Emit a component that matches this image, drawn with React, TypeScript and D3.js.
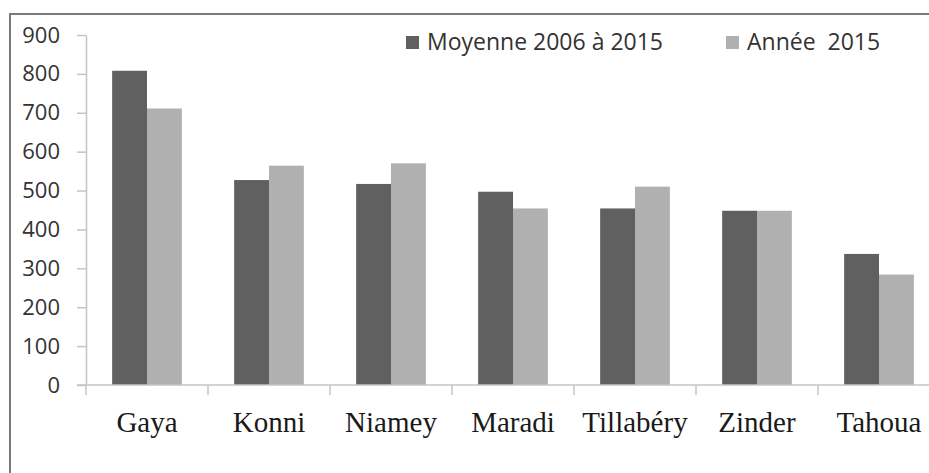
import * as d3 from "d3";
import { useEffect, useRef } from "react";

const categories = ["Gaya", "Konni", "Niamey", "Maradi", "Tillabéry", "Zinder", "Tahoua"];
const moyenne = [808, 527, 517, 497, 454, 448, 337];
const annee2015 = [711, 564, 570, 454, 510, 448, 284];
const seriesNames = ["Moyenne 2006 à 2015", "Année  2015"];
const yTicks = [0, 100, 200, 300, 400, 500, 600, 700, 800, 900];

const COLORS = {
  dark: "#606060",
  light: "#b0b0b0",
  axis: "#c4c4c4",
  tickText: "#333333",
  catText: "#1a1a1a",
  frame: "#7a7a7a",
};

const WIDTH = 929;
const HEIGHT = 473;

export default function App() {
  const svgRef = useRef<SVGSVGElement | null>(null);

  useEffect(() => {
    if (!svgRef.current) return;
    const svg = d3.select(svgRef.current);
    svg.selectAll("*").remove();

    const x0 = 86;
    const yBase = 385;
    const bandW = 122;

    const x = d3
      .scaleBand<string>()
      .domain(categories)
      .range([x0, x0 + bandW * categories.length]);
    // excel-like 150% gap between groups
    const x1 = d3
      .scaleBand<string>()
      .domain(seriesNames)
      .range([0, x.bandwidth()])
      .paddingInner(0)
      .paddingOuter(0.75);
    const y = d3.scaleLinear().domain([0, 900]).range([yBase, 35]);

    // outer frame (only top + left are in the picture)
    svg
      .append("path")
      .attr("d", `M10,${HEIGHT}V14H${WIDTH}`)
      .attr("fill", "none")
      .attr("stroke", COLORS.frame)
      .attr("stroke-width", 2);

    // bars
    const data = categories.map((c, i) => ({
      cat: c,
      values: [moyenne[i], annee2015[i]],
    }));
    const colors = [COLORS.dark, COLORS.light];

    const groups = svg
      .append("g")
      .selectAll("g")
      .data(data)
      .join("g")
      .attr("transform", (d) => `translate(${x(d.cat)},0)`);

    groups
      .selectAll("rect")
      .data((d) => d.values.map((v, i) => ({ v, i })))
      .join("rect")
      .attr("x", (d) => x1(seriesNames[d.i]) as number)
      .attr("width", x1.bandwidth())
      .attr("y", (d) => y(d.v))
      .attr("height", (d) => yBase - y(d.v))
      .attr("fill", (d) => colors[d.i]);

    // y axis
    const yAxis = svg
      .append("g")
      .attr("transform", `translate(${x0},0)`)
      .call(d3.axisLeft(y).tickValues(yTicks).tickSize(9).tickPadding(17).tickSizeOuter(0));
    yAxis.select(".domain").attr("stroke", COLORS.axis).attr("stroke-width", 1.5);
    yAxis.selectAll(".tick line").attr("stroke", COLORS.axis).attr("stroke-width", 1.5);
    yAxis
      .selectAll(".tick text")
      .attr("fill", COLORS.tickText)
      .style("font-family", "'Open Sans', sans-serif")
      .style("font-size", "22px");
    svg
      .append("line")
      .attr("x1", x0)
      .attr("x2", x0)
      .attr("y1", yBase)
      .attr("y2", yBase + 10)
      .attr("stroke", COLORS.axis)
      .attr("stroke-width", 1.5);

    // x axis
    svg
      .append("line")
      .attr("x1", x0 - 9)
      .attr("x2", WIDTH)
      .attr("y1", yBase)
      .attr("y2", yBase)
      .attr("stroke", COLORS.axis)
      .attr("stroke-width", 1.5);
    svg
      .append("g")
      .selectAll("line")
      .data(categories.slice(1))
      .join("line")
      .attr("x1", (d) => x(d) as number)
      .attr("x2", (d) => x(d) as number)
      .attr("y1", yBase)
      .attr("y2", yBase + 10)
      .attr("stroke", COLORS.axis)
      .attr("stroke-width", 1.5);

    svg
      .append("g")
      .selectAll("text")
      .data(categories)
      .join("text")
      .attr("x", (d) => (x(d) as number) + x.bandwidth() / 2)
      .attr("y", 432)
      .attr("text-anchor", "middle")
      .attr("fill", COLORS.catText)
      .style("font-family", "'Liberation Serif', 'Times New Roman', serif")
      .style("font-size", "29px")
      .text((d) => d);

    // legend
    const legendPos = [
      { sx: 406, tx: 427 },
      { sx: 726, tx: 747 },
    ];
    const legend = svg
      .append("g")
      .selectAll("g")
      .data(seriesNames)
      .join("g");
    legend
      .append("rect")
      .attr("x", (_, i) => legendPos[i].sx)
      .attr("y", 36)
      .attr("width", 13)
      .attr("height", 13)
      .attr("fill", (_, i) => colors[i]);
    legend
      .append("text")
      .attr("x", (_, i) => legendPos[i].tx)
      .attr("y", 50)
      .attr("fill", COLORS.tickText)
      .style("font-family", "'Open Sans', sans-serif")
      .style("font-size", "23px")
      .style("white-space", "pre")
      .text((d) => d);
  }, []);

  return (
    <svg
      ref={svgRef}
      width={WIDTH}
      height={HEIGHT}
      style={{ position: "absolute", left: 0, top: 0, background: "#fff" }}
    />
  );
}
